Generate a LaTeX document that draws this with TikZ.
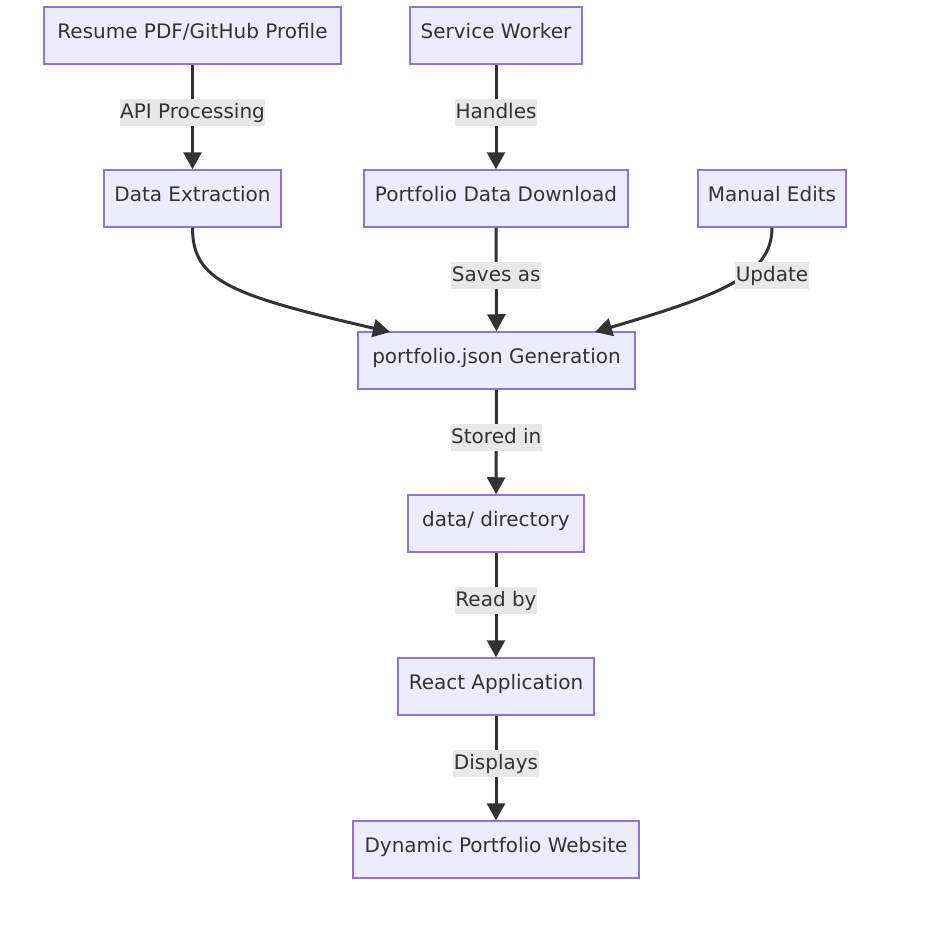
\documentclass[tikz,border=0pt]{standalone}
\usepackage{fontspec}
\setmainfont{DejaVu Sans}
\usetikzlibrary{arrows.meta}
\definecolor{boxfill}{HTML}{ECECFF}
\definecolor{boxline}{HTML}{9370DB}
\definecolor{edgecol}{HTML}{333333}
\definecolor{lblbg}{HTML}{E8E8E8}
\begin{document}
\begin{tikzpicture}[x=1pt,y=-1pt,
  box/.style={draw=boxline,fill=boxfill,line width=1.5pt,minimum height=57pt,inner sep=0pt,
    text height=10pt,text depth=5pt,text=edgecol,font=\fontsize{20}{24}\selectfont},
  lbl/.style={fill=lblbg,text=edgecol,inner xsep=0.5pt,inner ysep=3.5pt,text height=16pt,text depth=4pt,
    font=\fontsize{20}{24}\selectfont},
  conn/.style={draw=edgecol,line width=3pt,-{Triangle[length=17pt,width=18pt]}}]
\useasboundingbox (0,0) rectangle (940,926);
\node[box,minimum width=297pt] (r)  at (192.5,35.5) {Resume PDF/GitHub Profile};
\node[box,minimum width=172pt] (sw) at (496,35.5) {Service Worker};
\node[box,minimum width=177pt] (de) at (192.5,198.5) {Data Extraction};
\node[box,minimum width=264pt] (pd) at (496,198.5) {Portfolio Data Download};
\node[box,minimum width=148pt] (me) at (772,198.5) {Manual Edits};
\node[box,minimum width=277pt] (pj) at (496.5,360.5) {portfolio.json Generation};
\node[box,minimum width=176pt] (dd) at (496,523.5) {data/ directory};
\node[box,minimum width=196pt] (ra) at (496,686.5) {React Application};
\node[box,minimum width=286pt] (dw) at (496,849.5) {Dynamic Portfolio Website};

\coordinate (pjL) at (390,332);
\coordinate (pjR) at (595,332);

\draw[conn] (r) -- (de) node[lbl,pos=0.46] (l1) {API Processing};
\draw[conn] (sw) -- (pd) node[lbl,pos=0.46] (l2) {Handles};
\draw[conn] (pd) -- (pj) node[lbl,pos=0.46] (l3) {Saves as};
\draw[conn] (pj) -- (dd) node[lbl,pos=0.46] (l4) {Stored in};
\draw[conn] (dd) -- (ra) node[lbl,pos=0.46] (l5) {Read by};
\draw[conn] (ra) -- (dw) node[lbl,pos=0.46] (l6) {Displays};
\draw[conn] (de.south) .. controls +(0,53) and (230,295) .. (pjL);
\draw[conn] (me.south) .. controls +(0,48) and (720,295) .. (pjR);
\node[lbl] (l7) at (772,275) {Update};
\end{tikzpicture}
\end{document}
